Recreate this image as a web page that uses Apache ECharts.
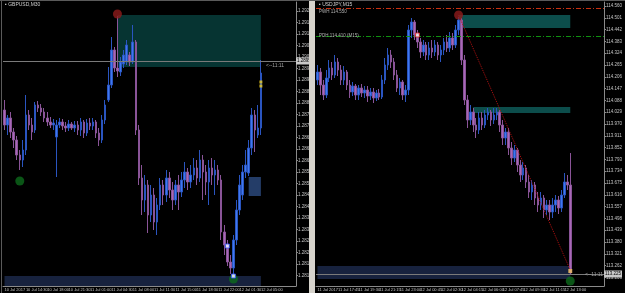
<!DOCTYPE html>
<html><head><meta charset="utf-8">
<script src="https://cdn.jsdelivr.net/npm/echarts@6/dist/echarts.min.js"></script>
<style>html,body{margin:0;padding:0;background:#000;}#c{width:625px;height:293px;}</style>
</head><body><div id="c"></div>
<script>
// ---------- LEFT: GBPUSD,M30 ----------
const leftTimes = ['10 Jul 2017','10 Jul 14:30','10 Jul 18:00','10 Jul 21:30','11 Jul 01:00','11 Jul 04:30','11 Jul 08:00','11 Jul 11:30','11 Jul 15:00','11 Jul 18:30','11 Jul 22:00','12 Jul 01:30','12 Jul 05:00','12 Jul 08:30'];
const leftTicks = [1.29200,1.29154,1.29108,1.29062,1.29016,1.28970,1.28924,1.28878,1.28832,1.28786,1.28740,1.28694,1.28648,1.28602,1.28556,1.28510,1.28464,1.28418,1.28372,1.28326,1.28280,1.28234,1.28188,1.28142];
const leftOpen = [1.28804,1.28744,1.28772,1.28716,1.28684,1.28624,1.28604,1.28644,1.28784,1.28744,
1.28724,1.28824,1.28812,1.28796,1.28772,1.28756,1.28744,1.28696,1.28744,1.28756,
1.28740,1.28732,1.28748,1.28732,1.28744,1.28724,1.28756,1.28712,1.28752,1.28740,
1.28756,1.28712,1.28684,1.28764,1.28844,1.28904,1.29044,1.28972,1.28956,1.28988,
1.28996,1.29024,1.28996,1.29076,1.28724,1.28532,1.28444,1.28504,1.28384,1.28464,
1.28356,1.28424,1.28504,1.28464,1.28532,1.28484,1.28444,1.28504,1.28476,1.28524,
1.28556,1.28516,1.28544,1.28572,1.28532,1.28604,1.28556,1.28516,1.28572,1.28544,
1.28564,1.28524,1.28316,1.28264,1.28196,1.28172,1.28284,1.28404,1.28464,1.28556,
1.28552,1.28652,1.28784,1.28704,1.28732];
const leftClose = [1.28744,1.28772,1.28716,1.28684,1.28624,1.28604,1.28644,1.28784,1.28744,1.28716,
1.28824,1.28812,1.28796,1.28772,1.28756,1.28744,1.28752,1.28744,1.28756,1.28740,
1.28732,1.28748,1.28732,1.28744,1.28724,1.28756,1.28712,1.28752,1.28740,1.28756,
1.28712,1.28684,1.28764,1.28824,1.28904,1.29044,1.28972,1.28960,1.28996,1.29024,
1.29064,1.28996,1.29076,1.28724,1.28532,1.28444,1.28504,1.28384,1.28464,1.28356,
1.28424,1.28504,1.28464,1.28532,1.28484,1.28444,1.28504,1.28476,1.28524,1.28556,
1.28516,1.28544,1.28572,1.28532,1.28604,1.28556,1.28516,1.28572,1.28544,1.28564,
1.28524,1.28316,1.28264,1.28196,1.28172,1.28284,1.28404,1.28504,1.28556,1.28584,
1.28652,1.28784,1.28724,1.28732,1.28952];
const leftHigh = [1.28844,1.28784,1.28796,1.28732,1.28700,1.28644,1.28684,1.28864,1.28804,1.28772,
1.28836,1.28840,1.28828,1.28812,1.28796,1.28776,1.28768,1.28764,1.28772,1.28768,
1.28756,1.28764,1.28756,1.28760,1.28760,1.28772,1.28764,1.28768,1.28772,1.28772,
1.28764,1.28732,1.28784,1.28844,1.28976,1.29096,1.29056,1.29180,1.29016,1.29044,
1.29084,1.29036,1.29144,1.29084,1.28744,1.28584,1.28544,1.28524,1.28504,1.28492,
1.28452,1.28532,1.28524,1.28564,1.28556,1.28516,1.28524,1.28544,1.28556,1.28596,
1.28572,1.28584,1.28612,1.28604,1.28644,1.28624,1.28584,1.28604,1.28612,1.28604,
1.28584,1.28544,1.28344,1.28284,1.28224,1.28304,1.28444,1.28544,1.28584,1.28644,
1.28684,1.28812,1.28804,1.28824,1.29004];
const leftLow = [1.28724,1.28704,1.28692,1.28652,1.28604,1.28564,1.28576,1.28624,1.28724,1.28684,
1.28712,1.28796,1.28780,1.28756,1.28740,1.28732,1.28724,1.28536,1.28732,1.28724,
1.28716,1.28720,1.28724,1.28716,1.28704,1.28700,1.28692,1.28700,1.28724,1.28724,
1.28692,1.28660,1.28672,1.28748,1.28836,1.28892,1.28956,1.28936,1.28940,1.28972,
1.28984,1.28980,1.28988,1.28704,1.28504,1.28384,1.28396,1.28312,1.28356,1.28324,
1.28304,1.28404,1.28424,1.28436,1.28452,1.28404,1.28424,1.28404,1.28456,1.28492,
1.28484,1.28492,1.28524,1.28504,1.28516,1.28444,1.28464,1.28424,1.28504,1.28464,
1.28504,1.28284,1.28224,1.28180,1.28148,1.28136,1.28264,1.28384,1.28444,1.28532,
1.28540,1.28624,1.28636,1.28692,1.28704];
const leftSupplyZone = [37, 84, 1.29184, 1.28976];
const leftDemandZone = [80, 84, 1.28536, 1.28460];
const leftBottomZone = [0, 84, 1.28140, 1.28100];
const leftSwingHigh = [[37, 1.29188]];
const leftSwingLows = [[5, 1.28520], [75, 1.28128]];
const leftSignals = [[73, 1.28260], [75, 1.28140]];
const leftArrows = [[84, 1.28916], [84, 1.28900]];
const leftPriceLines = [1.28958, 1.28946];
const leftBid = 1.28952;

// ---------- RIGHT: USDJPY,M15 ----------
const rightTimes = ['11 Jul 2017','11 Jul 17:45','11 Jul 19:30','11 Jul 21:15','11 Jul 23:00','12 Jul 00:45','12 Jul 02:30','12 Jul 04:15','12 Jul 06:00','12 Jul 07:45','12 Jul 09:30','12 Jul 11:15','12 Jul 13:00','12 Jul 14:45'];
const rightTicks = [114.560,114.501,114.442,114.383,114.324,114.265,114.206,114.147,114.088,114.029,113.970,113.911,113.852,113.793,113.734,113.675,113.616,113.557,113.498,113.439,113.380,113.321,113.262,113.203];
const rightOpen = [114.190,114.230,114.165,114.115,114.200,114.250,114.215,114.280,114.240,114.190,
114.230,114.165,114.130,114.160,114.115,114.150,114.125,114.140,114.110,114.130,
114.100,114.125,114.105,114.190,114.265,114.315,114.280,114.215,114.150,114.180,
114.115,114.140,114.440,114.480,114.415,114.380,114.330,114.365,114.315,114.350,
114.330,114.365,114.315,114.340,114.380,114.350,114.400,114.365,114.440,114.490,
114.290,114.090,113.990,114.030,113.965,113.940,114.000,113.965,114.015,114.030,
113.990,114.015,114.030,113.965,113.900,113.930,113.850,113.800,113.840,113.765,
113.715,113.750,113.680,113.630,113.665,113.600,113.565,113.600,113.540,113.565,
113.530,113.565,113.590,113.550,113.615,113.680,113.665];
const rightClose = [114.230,114.165,114.115,114.200,114.250,114.215,114.280,114.240,114.190,114.230,
114.165,114.130,114.160,114.115,114.150,114.125,114.140,114.110,114.130,114.100,
114.125,114.105,114.190,114.265,114.315,114.280,114.215,114.150,114.180,114.115,
114.140,114.440,114.480,114.415,114.380,114.330,114.365,114.315,114.350,114.330,
114.365,114.315,114.340,114.380,114.350,114.400,114.365,114.440,114.490,114.290,
114.090,113.990,114.030,113.965,113.940,114.000,113.965,114.015,114.030,113.990,
114.015,114.030,113.965,113.900,113.930,113.850,113.800,113.840,113.765,113.715,
113.750,113.680,113.630,113.665,113.600,113.565,113.600,113.540,113.565,113.530,
113.565,113.590,113.550,113.615,113.680,113.665,113.225];
const rightHigh = [114.265,114.250,114.190,114.240,114.290,114.280,114.315,114.300,114.265,114.260,
114.240,114.190,114.180,114.170,114.165,114.170,114.160,114.160,114.150,114.150,
114.140,114.145,114.215,114.300,114.350,114.340,114.300,114.240,114.200,114.190,
114.165,114.465,114.500,114.490,114.440,114.400,114.390,114.380,114.380,114.390,
114.390,114.380,114.365,114.400,114.415,114.430,114.425,114.465,114.505,114.500,
114.315,114.115,114.065,114.050,114.000,114.030,114.030,114.040,114.050,114.040,
114.050,114.050,114.040,113.990,113.950,113.950,113.880,113.865,113.850,113.790,
113.780,113.765,113.715,113.690,113.680,113.630,113.630,113.615,113.590,113.590,
113.600,113.615,113.610,113.640,113.725,113.715,113.825];
const rightLow = [114.165,114.115,114.090,114.100,114.180,114.190,114.200,114.210,114.165,114.165,
114.140,114.100,114.110,114.090,114.090,114.105,114.100,114.080,114.090,114.075,
114.085,114.090,114.095,114.170,114.240,114.250,114.190,114.130,114.115,114.090,
114.080,114.115,114.400,114.390,114.350,114.300,114.310,114.290,114.290,114.300,
114.310,114.290,114.280,114.315,114.330,114.330,114.340,114.350,114.415,114.265,
114.065,113.950,113.965,113.930,113.900,113.920,113.940,113.950,113.990,113.960,
113.970,113.990,113.930,113.865,113.865,113.815,113.765,113.780,113.730,113.680,
113.690,113.650,113.600,113.590,113.565,113.530,113.540,113.500,113.515,113.490,
113.500,113.530,113.520,113.530,113.600,113.640,113.215];
const rightSupplyZone = [48, 86, 114.515, 114.450];
const rightSupplyZone2 = [53, 86, 114.055, 114.025];
const rightBottomZone = [0, 86, 113.260, 113.195];
const rightSwingHigh = [[48, 114.515]];
const rightSwingLow = [[86, 113.185]];
const rightSignals = [[34, 114.415]];
const rightArrow = [[86, 113.235]];
const rightTrend = [[48, 114.515], [86, 113.240]];
const rightWeekHigh = 114.550;
const rightDayHigh = 114.410;
const rightBid = 113.225;

// ---------- build ----------
const BULL = '#3f78f0', BULL_W = '#2a55c0', BEAR = '#a868b8', BEAR_W = '#8a5498';
const AX = '#8a8a8a', TXT = '#c4c4c4';
const FONT = 'Liberation Sans Narrow, Liberation Sans, sans-serif';
const ohlc = (o, c, l, h) => o.map((v, i) => [v, c[i], l[i], h[i]]);
const cats = n => Array.from({length: n}, (_, i) => i);
const zone = (z, color) => [{coord: [z[0], z[2]], itemStyle: {color: color}}, {coord: [z[1], z[3]]}];

function xAxisCfg(grid, n, times) {
  return {
    type: 'category', gridIndex: grid, data: cats(n), boundaryGap: true,
    axisLine: {lineStyle: {color: AX}},
    axisTick: {interval: 6, length: 2, lineStyle: {color: AX}},
    axisLabel: {interval: 6, showMinLabel: true, hideOverlap: false, formatter: (v, i) => times[i / 7] || '', fontSize: 4, color: TXT,
      align: 'left', margin: 2, fontFamily: FONT}
  };
}
function yAxisCfg(grid, min, max, ticks, dec) {
  return {
    type: 'value', gridIndex: grid, position: 'right', min: min, max: max, scale: true,
    splitLine: {show: false},
    axisLine: {show: true, lineStyle: {color: AX}},
    axisTick: {show: true, length: 2, customValues: ticks, lineStyle: {color: AX}},
    axisLabel: {customValues: ticks, formatter: v => v.toFixed(dec), fontSize: 4.5, color: TXT,
      margin: 2, fontFamily: FONT}
  };
}
const candleStyle = {color: BULL, color0: BEAR, borderColor: BULL_W, borderColor0: BEAR_W, borderWidth: 1};
const bidLabel = (t) => ({show: true, position: 'end', formatter: t, backgroundColor: '#c8c8c8', color: '#000',
  fontSize: 4.5, padding: [1, 1], distance: 0, fontFamily: FONT});

const option = {
  backgroundColor: '#000',
  animation: false,
  grid: [
    {left: 3, top: 2, width: 293, height: 284},
    {left: 316, top: 2, width: 296, height: 284}
  ],
  xAxis: [xAxisCfg(0, 96, leftTimes), xAxisCfg(1, 98, rightTimes)],
  yAxis: [yAxisCfg(0, 1.28100, 1.29236, leftTicks, 5), yAxisCfg(1, 113.160, 114.580, rightTicks, 3)],
  series: [
    {
      type: 'candlestick', xAxisIndex: 0, yAxisIndex: 0, barWidth: 2,
      data: ohlc(leftOpen, leftClose, leftLow, leftHigh), itemStyle: candleStyle,
      markArea: {silent: true, data: [zone(leftSupplyZone, '#063432'), zone(leftDemandZone, '#243d68'), zone(leftBottomZone, '#17223e')]},
      markLine: {silent: true, symbol: 'none', data: [
        {yAxis: leftPriceLines[0], lineStyle: {color: '#7a7a7a', width: 1, type: 'solid'}, label: {show: false}},
        {yAxis: leftPriceLines[1], lineStyle: {color: '#7a7a7a', width: 1, type: 'solid'}, label: bidLabel(leftBid.toFixed(5))}
      ]}
    },
    {type: 'scatter', xAxisIndex: 0, yAxisIndex: 0, data: leftSwingHigh, symbolSize: 9, itemStyle: {color: '#8e1c1c'}, z: 5},
    {type: 'scatter', xAxisIndex: 0, yAxisIndex: 0, data: leftSwingLows, symbolSize: 9, itemStyle: {color: '#0c6a1c'}, z: 5},
    {type: 'scatter', xAxisIndex: 0, yAxisIndex: 0, data: leftSignals, symbol: 'rect', symbolSize: 4, itemStyle: {color: '#ffffff', borderColor: '#3050ff', borderWidth: 1}, z: 6},
    {type: 'scatter', xAxisIndex: 0, yAxisIndex: 0, data: leftArrows, symbol: 'rect', symbolSize: 3, itemStyle: {color: '#f0d020'}, z: 6},
    {
      type: 'candlestick', xAxisIndex: 1, yAxisIndex: 1, barWidth: 2,
      data: ohlc(rightOpen, rightClose, rightLow, rightHigh), itemStyle: candleStyle,
      markArea: {silent: true, data: [zone(rightSupplyZone, '#0c4d4b'), zone(rightSupplyZone2, '#0c4d4b'), zone(rightBottomZone, '#17223e')]},
      markLine: {silent: true, symbol: 'none', data: [
        {yAxis: rightWeekHigh, lineStyle: {color: '#c83010', width: 1, type: [5, 2, 1, 2]}, label: {show: false}},
        {yAxis: rightDayHigh, lineStyle: {color: '#109010', width: 1, type: [5, 2, 1, 2]}, label: {show: false}},
        {yAxis: rightBid, lineStyle: {color: '#7a7a7a', width: 1, type: 'solid'}, label: bidLabel(rightBid.toFixed(3))}
      ]}
    },
    {type: 'line', xAxisIndex: 1, yAxisIndex: 1, data: rightTrend, symbol: 'none', lineStyle: {color: '#b01010', width: 1, type: 'dotted'}, z: 4},
    {type: 'scatter', xAxisIndex: 1, yAxisIndex: 1, data: rightSwingHigh, symbolSize: 9, itemStyle: {color: '#8e1c1c'}, z: 5},
    {type: 'scatter', xAxisIndex: 1, yAxisIndex: 1, data: rightSwingLow, symbolSize: 9, itemStyle: {color: '#0c6a1c'}, z: 5},
    {type: 'scatter', xAxisIndex: 1, yAxisIndex: 1, data: rightSignals, symbol: 'rect', symbolSize: 4, itemStyle: {color: '#ffffff', borderColor: '#e02020', borderWidth: 1}, z: 6},
    {type: 'scatter', xAxisIndex: 1, yAxisIndex: 1, data: rightArrow, symbol: 'rect', symbolSize: 4, itemStyle: {color: '#f0c060'}, z: 6}
  ],
  graphic: [
    {type: 'rect', shape: {x: 309, y: 0, width: 6, height: 293}, style: {fill: '#d6d3cc'}, z: 100},
    {type: 'rect', shape: {x: 0, y: 0, width: 625, height: 1}, style: {fill: '#5a5a5a'}, z: 100},
    {type: 'rect', shape: {x: 1, y: 0, width: 1, height: 293}, style: {fill: '#5a5a5a'}, z: 100},
    {type: 'text', x: 5, y: 2, style: {text: '\u25aa GBPUSD,M30', fill: '#cfcfcf', font: '5px ' + FONT}, z: 100},
    {type: 'text', x: 319, y: 2, style: {text: '\u25aa USDJPY,M15', fill: '#cfcfcf', font: '5px ' + FONT}, z: 100},
    {type: 'text', x: 319, y: 9, style: {text: 'PWH 114.550', fill: '#b0b0b0', font: '4.5px ' + FONT}, z: 100},
    {type: 'text', x: 319, y: 33, style: {text: 'PDH 114.410 (M15)', fill: '#b0b0b0', font: '4.5px ' + FONT}, z: 100},
    {type: 'text', x: 266, y: 63, style: {text: '<--11:11', fill: '#a0a0a0', font: '5px ' + FONT}, z: 100},
    {type: 'text', x: 585, y: 272, style: {text: '<--11:11', fill: '#a0a0a0', font: '5px ' + FONT}, z: 100}
  ]
};
const chart = echarts.init(document.getElementById('c'));
chart.setOption(option);
</script></body></html>
